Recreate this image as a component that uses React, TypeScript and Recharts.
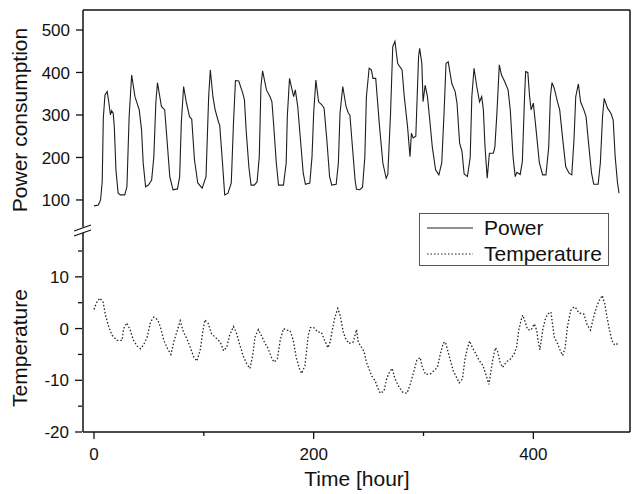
import React from 'react';
import { LineChart, Line, XAxis, YAxis, Legend } from 'recharts';

// hourly power consumption, read at the turning points of each daily cycle
const powerHours = [
  0, 4, 6, 7.5, 8.5, 10, 12, 13.5, 15, 16, 17.5, 18.5, 20, 22, 24, 28, 30,
  32, 34.3, 37.3, 41.2, 43.3, 44.8, 47, 49.5, 52.5, 54.5,
  56.3, 57.8, 61.4, 64.4, 66.5, 69, 72, 76, 78,
  79.5, 81.6, 84, 87, 89, 91.5, 94.5, 98.5, 102,
  104.4, 105.9, 108.3, 110.3, 113.3, 114.5, 117, 119, 122, 125,
  127, 128.8, 131.8, 135.5, 137, 138.5, 141, 143, 146, 148.5, 150.5,
  152, 153.5, 157, 160.3, 162, 163.5, 166, 168, 172.5, 175,
  176, 178, 180, 181.8, 183.3, 185.5, 188, 190.5, 192.5, 196.5, 198.5,
  200, 202, 204.5, 207.5, 209.5, 212, 214.5, 216.5, 220.5, 222.5,
  224, 226.5, 229.5, 231.6, 233, 235.5, 237.7, 239, 242, 244.5, 246.6,
  248, 250.5, 252.5, 254, 256.5, 257.7, 260, 263, 266, 267.5, 270,
  272, 274, 276.5, 280.5, 282.5, 285.5, 287.7, 289, 290.6, 293,
  295.5, 296.5, 298.5, 299.6, 301.5, 303.6, 305.7, 308, 311, 314, 316.6, 318.7,
  320.5, 322.5, 325.8, 328.8, 330.5, 332.9, 335, 337, 340, 342.5,
  344, 346, 348.5, 351, 353, 354.5, 356, 358, 360, 363.6, 365,
  367, 369, 371, 374, 377, 379, 381.5, 383.5, 385, 388, 390,
  392, 393, 395, 396.6, 398, 400, 402.5, 405.5, 408.5, 411.5, 414,
  415.5, 417, 419, 422, 424, 426.5, 429.5, 432.5, 435, 437,
  438.6, 441, 443, 446, 448, 450.6, 453, 455, 459, 461,
  463, 464.5, 467.5, 470.6, 472.7, 474.5, 476.6, 478,
];
const powerValues = [
  86, 88, 100, 143, 293, 347, 355, 330, 300, 310, 304, 272, 170, 116, 112, 112, 131,
  296, 394, 343, 312, 265, 187, 131, 135, 147, 202,
  328, 376, 320, 312, 241, 155, 124, 126, 155,
  281, 367, 331, 296, 290, 194, 140, 128, 155,
  343, 406, 343, 312, 284, 275, 187, 112, 116, 140,
  281, 381, 380, 351, 335, 265, 178, 135, 135, 143, 202,
  367, 404, 359, 343, 331, 280, 187, 135, 135, 187,
  296, 386, 363, 343, 359, 320, 241, 163, 137, 140, 202,
  304, 382, 331, 324, 316, 241, 155, 135, 137, 187,
  304, 367, 320, 304, 300, 218, 147, 125, 124, 130, 202,
  343, 410, 406, 386, 386, 347, 272, 187, 151, 160, 304,
  461, 473, 421, 406, 343, 272, 202, 257, 246, 250,
  437, 457, 421, 331, 370, 343, 288, 225, 171, 159, 187, 304,
  421, 425, 374, 355, 328, 233, 215, 161, 155, 200,
  343, 410, 367, 331, 343, 312, 225, 151, 210, 210, 225,
  312, 418, 394, 378, 359, 312, 202, 155, 165, 160, 190,
  343, 402, 400, 343, 312, 328, 265, 187, 159, 159, 225,
  343, 376, 363, 331, 312, 249, 178, 163, 159, 241,
  343, 373, 331, 312, 296, 225, 163, 137, 137, 187,
  296, 339, 316, 304, 288, 202, 141, 116,
];

const tempHours = [
  0, 2.3, 5.3, 8.3, 10.5, 13.5, 16.5, 21, 25.6, 27, 30, 33, 36, 39.4, 42.4, 45.5, 48.5,
  51.5, 54.5, 58, 60.5, 63.6, 67, 70, 73, 76, 78.5, 81.5, 84.5, 87.6, 90.6, 93.6, 96.7,
  99, 101, 104, 107, 111.5, 115, 118, 121, 123.5, 127, 129.5, 132.4, 136, 139, 142,
  144.5, 146.7, 149.7, 152.7, 155.8, 158, 162, 164, 167, 169.5, 172.5, 175.5, 178.5,
  181.5, 184, 187, 189, 192, 193.6, 195, 197, 200, 204, 207, 210, 213, 215, 217, 219,
  222, 224, 227, 229, 232, 236, 237.7, 239, 240.6, 243, 246, 248, 253, 256, 258, 260.6,
  264, 266.5, 269, 271.5, 274, 277, 281, 285, 288, 291, 294, 297, 299, 302, 306.7,
  309.7, 312.7, 315, 318, 320, 323, 327, 330, 332.5, 335.5, 337.6, 339.8, 342, 344.5,
  347.5, 350.5, 354, 357, 359.5, 361.5, 363, 365.5, 367.6, 369.7, 372, 375.2, 379.7,
  382.7, 384.8, 386.7, 388.8, 390.3, 392.7, 394.8, 397.9, 400.9, 403, 404.8, 406, 408.5,
  411, 413, 416, 417.6, 419, 422, 425, 426.7, 429, 431, 434, 437, 439, 441.5, 446, 449,
  452, 455, 458, 460.5, 462.7, 465, 467, 469, 471.5, 474, 477,
];
const tempValues = [
  3.7, 5.0, 5.9, 5.1, 2.6, 0.3, -1.3, -2.3, -2.3, 0, 1.1, -0.3, -2.3, -3.4, -3.9, -3.0, -1.6,
  1.3, 2.2, 1.7, 0.3, -2.3, -3.9, -5.0, -2.3, -0.3, 1.5, -0.7, -1.9, -3.6, -5.4, -6.3, -4.2,
  -0.7, 1.7, 1.0, -1.0, -1.9, -2.6, -4.3, -3.5, -1.3, 0.4, -0.7, -2.9, -5.4, -6.8, -7.7,
  -5.2, -1.6, -0.2, -1.5, -2.9, -3.6, -5.8, -6.5, -5.8, -2.3, 0, -0.3, -0.4,
  -2.3, -5.5, -7.7, -8.7, -7.2, -4.2, -1.3, 0.2, 0.2, -0.7, -0.7, -2.3, -3.7, -2.6, -0.3, 1.9,
  3.9, 2.6, -0.7, -1.9, -2.9, -2.6, -1.3, -0.2, -2.6, -3.4, -4.5, -6.5, -9.2, -10.1, -11.3, -12.5,
  -12.1, -9.7, -8.4, -7.7, -9.7, -11.0, -12.3, -12.5, -10.7, -8.4, -6.1, -5.6, -7.5, -8.9, -8.7,
  -8.1, -7.5, -5.2, -2.8, -2.6, -5.0, -8.1, -9.4, -10.5, -9.7, -6.1, -3.9, -2.4, -3.7,
  -4.8, -6.1, -7.1, -9.0, -10.8, -8.1, -6.1, -3.7, -4.5, -6.5, -7.5, -6.5, -5.8,
  -4.8, -3.5, -0.3, 1.6, 2.6, 1.2, -0.2, -0.3, 0.9, -0.3, -2.9, -4.1, -0.3,
  1.9, 2.8, 3.2, 0.7, -1.6, -2.9, -4.5, -5.2, -3.7, 0.3, 3.5, 4.2, 3.9, 3.0, 2.8, 0.7,
  -0.3, 2.3, 4.5, 5.6, 6.4, 4.8, 2.3, 0.05, -2.3, -3.2, -2.9,
];

const xTicks = [0, 100, 200, 300, 400];
const xLabeled = [0, 200, 400];
const powerTicks = [100, 150, 200, 250, 300, 350, 400, 450, 500];
const powerLabeled = [100, 200, 300, 400, 500];
const tempTicks = [-20, -15, -10, -5, 0, 5, 10, 15];
const tempLabeled = [-20, -10, 0, 10];

const powerData = powerHours.map((h, i) => ({ h, v: powerValues[i] }));
const tempData = tempHours.map((h, i) => ({ h, v: tempValues[i] }));

const FONT = '"Liberation Sans", Arial, sans-serif';
const INK = '#111';

function YTick(props: any) {
  const { x, y, payload, labeled } = props;
  const major = labeled.includes(payload.value);
  return (
    <g>
      <line x1={x} x2={x - (major ? 7 : 4)} y1={y} y2={y} stroke={INK} strokeWidth={1.3} />
      {major && (
        <text x={x - 13} y={y} dy="0.36em" textAnchor="end" fontSize={17} fontFamily={FONT} fill={INK}>
          {payload.value}
        </text>
      )}
    </g>
  );
}

function XTick(props: any) {
  const { x, y, payload } = props;
  const major = xLabeled.includes(payload.value);
  return (
    <g>
      <line x1={x} x2={x} y1={y} y2={y + (major ? 7 : 4)} stroke={INK} strokeWidth={1.3} />
      {major && (
        <text x={x} y={y + 28} textAnchor="middle" fontSize={17} fontFamily={FONT} fill={INK}>
          {payload.value}
        </text>
      )}
    </g>
  );
}

function LegendBox() {
  const row = (dash: string | undefined, label: string) => (
    <div style={{ display: 'flex', alignItems: 'center', height: 26 }}>
      <svg width={60} height={10} style={{ flex: 'none' }}>
        <line x1={7} x2={53} y1={5} y2={5} stroke="#222" strokeWidth={1.2} strokeDasharray={dash} />
      </svg>
      <span style={{ fontSize: 21, fontFamily: FONT, color: INK, marginLeft: 4 }}>{label}</span>
    </div>
  );
  return (
    <div style={{ border: '1px solid #555', background: '#fff', width: 190, height: 53, boxSizing: 'border-box', paddingTop: 1 }}>
      {row(undefined, 'Power')}
      {row('1.5 2', 'Temperature')}
    </div>
  );
}

export default function App() {
  return (
    <div style={{ position: 'absolute', left: 0, top: 0, width: 635, height: 494, background: '#fff' }}>
      <LineChart width={635} height={494} margin={{ top: 9, right: 4, bottom: 0, left: 81 }}>
        <XAxis
          dataKey="h"
          type="number"
          domain={[-10, 488]}
          ticks={xTicks}
          allowDataOverflow
          height={62}
          tickSize={0}
          tickMargin={0}
          tickLine={false}
          tick={(p: any) => <XTick {...p} />}
          axisLine={{ stroke: INK, strokeWidth: 1.5 }}
        />
        <XAxis xAxisId="top" orientation="top" type="number" domain={[0, 1]} height={1} tick={false} tickLine={false} axisLine={{ stroke: INK, strokeWidth: 1.5 }} />
        <YAxis
          yAxisId="p"
          type="number"
          domain={[-446, 547]}
          ticks={powerTicks}
          allowDataOverflow
          width={1}
          tickSize={0}
          tickMargin={0}
          tickLine={false}
          tick={(p: any) => <YTick {...p} labeled={powerLabeled} />}
          axisLine={{ stroke: INK, strokeWidth: 1.5 }}
        />
        <YAxis
          yAxisId="t"
          type="number"
          domain={[-20, 61.6]}
          ticks={tempTicks}
          allowDataOverflow
          width={1}
          tickSize={0}
          tickMargin={0}
          tickLine={false}
          tick={(p: any) => <YTick {...p} labeled={tempLabeled} />}
          axisLine={false}
        />
        <YAxis yAxisId="r" orientation="right" type="number" domain={[0, 1]} width={1} tick={false} tickLine={false} axisLine={{ stroke: INK, strokeWidth: 1.5 }} />
        <Line
          yAxisId="p"
          data={powerData}
          dataKey="v"
          name="Power"
          type="linear"
          stroke="#1e1e1e"
          strokeWidth={1.1}
          dot={false}
          isAnimationActive={false}
        />
        <Line
          yAxisId="t"
          data={tempData}
          dataKey="v"
          name="Temperature"
          type="linear"
          stroke="#222"
          strokeWidth={1.3}
          strokeDasharray="1.5 2"
          dot={false}
          isAnimationActive={false}
        />
        <Legend
          layout="vertical"
          align="center"
          verticalAlign="middle"
          content={() => <LegendBox />}
          wrapperStyle={{ left: 419, top: 213, width: 190, height: 53 }}
        />
      </LineChart>
      <svg width={635} height={494} style={{ position: 'absolute', left: 0, top: 0, pointerEvents: 'none' }}>
        <rect x={79} y={227} width={8} height={6} fill="#fff" />
        <line x1={74} y1={231} x2={91} y2={225} stroke={INK} strokeWidth={1.3} />
        <line x1={74} y1={236} x2={91} y2={230} stroke={INK} strokeWidth={1.3} />
        <text x={0} y={0} transform="translate(27,120) rotate(-90)" textAnchor="middle" fontSize={21} fontFamily={FONT} fill={INK}>
          Power consumption
        </text>
        <text x={0} y={0} transform="translate(27,348) rotate(-90)" textAnchor="middle" fontSize={21} fontFamily={FONT} fill={INK}>
          Temperature
        </text>
        <text x={357} y={486} textAnchor="middle" fontSize={21} fontFamily={FONT} fill={INK}>
          Time [hour]
        </text>
      </svg>
    </div>
  );
}
